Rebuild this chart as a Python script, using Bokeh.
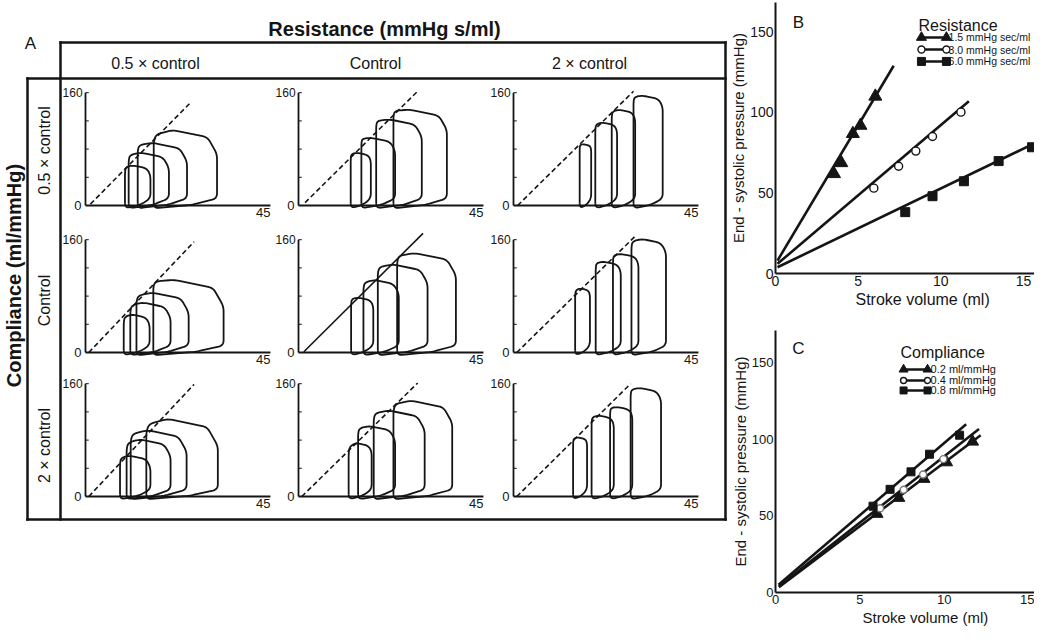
import numpy as np
from bokeh.plotting import figure
from bokeh.models import Range1d, FixedTicker, Title
from bokeh.layouts import row, column
from bokeh.embed import file_html
from bokeh.resources import INLINE
from bokeh.core.properties import value

FONT = "Liberation Sans"
INK = "#151515"

# ======================= DATA =======================
# ---- Panel A: pressure-volume loops (volume ml, pressure mmHg)
RES_LABELS = ["0.5 \u00d7 control", "Control", "2 \u00d7 control"]
COMP_LABELS = ["0.5 \u00d7 control", "Control", "2 \u00d7 control"]
A_TITLE_X = "Resistance (mmHg s/ml)"
A_TITLE_Y = "Compliance (ml/mmHg)"
A_XMAX = 45
A_YMAX = 160
A_YTICKS = [40, 80, 120, 160]

# per loop: end-systolic volume, end-diastolic volume, end-systolic pressure, peak pressure
VES_00 = [9.6, 10.5, 12.7, 16.6]
VED_00 = [15.8, 20.3, 24.7, 32.0]
PES_00 = [52, 69, 83, 95]
PMX_00 = [57, 75, 89, 107]

VES_01 = [12.7, 15.3, 18.9, 23.1]
VED_01 = [17.6, 23.5, 30.0, 36.1]
PES_01 = [71, 94, 119, 133]
PMX_01 = [75, 96, 122, 136]

VES_02 = [16.1, 19.9, 23.9, 29.2]
VED_02 = [18.9, 25.2, 29.6, 36.3]
PES_02 = [85, 112, 131, 152]
PMX_02 = [87, 118, 136, 156]

VES_10 = [9.3, 10.9, 12.4, 16.5]
VED_10 = [15.6, 20.7, 25.1, 33.6]
PES_10 = [47, 63, 77, 99]
PMX_10 = [54, 71, 85, 103]

VES_11 = [12.8, 15.8, 19.3, 24.0]
VED_11 = [18.2, 24.4, 31.4, 38.3]
PES_11 = [74, 96, 118, 134]
PMX_11 = [78, 103, 125, 141]

VES_12 = [15.0, 20.0, 24.2, 28.7]
VED_12 = [18.6, 26.1, 30.4, 37.1]
PES_12 = [85, 125, 136, 155]
PMX_12 = [91, 129, 140, 161]

VES_20 = [8.4, 10.0, 11.0, 14.8]
VED_20 = [15.8, 20.7, 24.6, 32.2]
PES_20 = [52, 72, 84, 96]
PMX_20 = [58, 81, 94, 110]

VES_21 = [12.2, 14.5, 18.3, 23.1]
VED_21 = [17.8, 23.5, 30.7, 37.4]
PES_21 = [65, 94, 115, 127]
PMX_21 = [76, 100, 122, 136]

VES_22 = [14.5, 19.0, 23.5, 28.5]
VED_22 = [17.9, 24.4, 28.9, 35.9]
PES_22 = [80, 110, 124, 150]
PMX_22 = [84, 115, 127, 154]

# end-systolic pressure-volume relation (two end points)
ESV_00, ESP_00 = [1.2, 25.4], [2, 145]
ESV_01, ESP_01 = [1.6, 28.8], [4, 161]
ESV_02, ESP_02 = [1.0, 29.2], [0, 162]
ESV_10, ESP_10 = [0.8, 26.4], [0, 157]
ESV_11, ESP_11 = [1.3, 30.3], [1, 169]
ESV_12, ESP_12 = [0.8, 29.6], [0, 165]
ESV_20, ESP_20 = [0.8, 26.4], [0, 159]
ESV_21, ESP_21 = [0.8, 29.0], [0, 161]
ESV_22, ESP_22 = [0.8, 28.5], [0, 160]

# ---- Panel B: resistance
B_LABELS = ["1.5 mmHg sec/ml", "3.0 mmHg sec/ml", "6.0 mmHg sec/ml"]
B_TRI_X = [3.54, 3.98, 4.68, 5.14, 6.04]
B_TRI_Y = [61.9, 68.7, 86.8, 91.9, 110.0]
B_CIR_X = [5.95, 7.45, 8.49, 9.50, 11.22]
B_CIR_Y = [53.0, 66.6, 76.0, 85.1, 100.2]
B_SQR_X = [7.85, 9.50, 11.40, 13.50, 15.52]
B_SQR_Y = [38.1, 48.0, 57.3, 69.8, 78.4]
B_FIT_TRI = ([0.12, 7.15], [8.0, 129.0])
B_FIT_CIR = ([0.12, 11.7], [6.0, 107.0])
B_FIT_SQR = ([0.12, 15.6], [3.9, 80.5])

# ---- Panel C: compliance
C_LABELS = ["0.2 ml/mmHg", "0.4 ml/mmHg", "0.8 ml/mmHg"]
C_TRI_X = [6.02, 7.31, 8.80, 10.14, 11.68]
C_TRI_Y = [51.3, 61.7, 74.1, 84.9, 98.4]
C_CIR_X = [6.20, 7.60, 8.75, 9.95]
C_CIR_Y = [55.0, 67.0, 77.0, 87.0]
C_SQR_X = [5.78, 6.79, 8.03, 9.13, 10.91]
C_SQR_Y = [56.3, 67.3, 78.7, 90.2, 102.6]
C_FIT_TRI = ([0.2, 12.16], [3.5, 102.6])
C_FIT_CIR = ([0.2, 12.06], [4.0, 106.7])
C_FIT_SQR = ([0.18, 11.3], [5.0, 109.8])

XTICKS = [0, 5, 10, 15]
YTICKS = [0, 50, 100, 150]
X_LABEL = "Stroke volume (ml)"
Y_LABEL = "End - systolic pressure (mmHg)"

# ======================= PANEL A =======================
W_A, H_A = 727, 626
SX, SY = 4.11, 0.705            # px per ml, px per mmHg in each small panel
X0 = [85, 298, 513]             # x of each column's pressure axis
Y0 = [205, 352, 496]            # y of each row's volume axis
XR = 725                        # right frame line

pA = figure(width=W_A, height=H_A, x_range=Range1d(0, W_A),
            y_range=Range1d(H_A, 0), min_border=0,
            x_axis_location=None, y_axis_location=None,
            toolbar_location=None, output_backend="svg",
            outline_line_color=None)
pA.grid.visible = False
pA.extra_x_ranges = {f"c{j}": Range1d((0 - X0[j]) / SX, (W_A - X0[j]) / SX)
                     for j in range(3)}
pA.extra_y_ranges = {f"r{i}": Range1d((Y0[i] - H_A) / SY, (Y0[i] - 0) / SY)
                     for i in range(3)}


def rounded_closed(vx, vy, r=5.0, n=7):
    X = np.asarray(vx, float) * SX
    Y = np.asarray(vy, float) * SY
    m = len(X)
    ox, oy = [], []
    for k in range(m):
        pxx, pyy = X[k - 1], Y[k - 1]
        cx, cy = X[k], Y[k]
        nx, ny = X[(k + 1) % m], Y[(k + 1) % m]
        l1 = np.hypot(pxx - cx, pyy - cy)
        l2 = np.hypot(nx - cx, ny - cy)
        r1, r2 = min(r, l1 / 2), min(r, l2 / 2)
        ax, ay = cx + (pxx - cx) / l1 * r1, cy + (pyy - cy) / l1 * r1
        bx, by = cx + (nx - cx) / l2 * r2, cy + (ny - cy) / l2 * r2
        for t in np.linspace(0, 1, n):
            ox.append((1 - t) ** 2 * ax + 2 * (1 - t) * t * cx + t ** 2 * bx)
            oy.append((1 - t) ** 2 * ay + 2 * (1 - t) * t * cy + t ** 2 * by)
    ox.append(ox[0])
    oy.append(oy[0])
    return list(np.array(ox) / SX), list(np.array(oy) / SY)


def loop_outline(ves, ved, pes, pmx):
    w = ved - ves
    prc = max(pmx - 2.2 * w, 0.62 * pmx)
    vx = [ves, ves + 0.6 * w, ved, ved, ved - 0.15 * w, ves + 0.3 * w, ves + 0.04 * w, ves]
    vy = [-4, 1, 10, prc, prc + 0.7 * (pmx - prc), pmx, 0.5 * (pes + pmx), pes - 4]
    return rounded_closed(vx, vy)


PANELS = {
    (0, 0): (VES_00, VED_00, PES_00, PMX_00, ESV_00, ESP_00),
    (0, 1): (VES_01, VED_01, PES_01, PMX_01, ESV_01, ESP_01),
    (0, 2): (VES_02, VED_02, PES_02, PMX_02, ESV_02, ESP_02),
    (1, 0): (VES_10, VED_10, PES_10, PMX_10, ESV_10, ESP_10),
    (1, 1): (VES_11, VED_11, PES_11, PMX_11, ESV_11, ESP_11),
    (1, 2): (VES_12, VED_12, PES_12, PMX_12, ESV_12, ESP_12),
    (2, 0): (VES_20, VED_20, PES_20, PMX_20, ESV_20, ESP_20),
    (2, 1): (VES_21, VED_21, PES_21, PMX_21, ESV_21, ESP_21),
    (2, 2): (VES_22, VED_22, PES_22, PMX_22, ESV_22, ESP_22),
}

for (i, j), (ves, ved, pes, pmx, esv, esp) in PANELS.items():
    kw = dict(x_range_name=f"c{j}", y_range_name=f"r{i}")
    # small axes
    pA.multi_line(xs=[[0, A_XMAX], [0, 0]], ys=[[0, 0], [0, A_YMAX]],
                  line_color=INK, line_width=1.8, **kw)
    pA.segment(x0=[0] * len(A_YTICKS), y0=A_YTICKS, x1=[0.8] * len(A_YTICKS), y1=A_YTICKS,
               line_color=INK, line_width=1.0, **kw)
    pA.text(x=[-0.7], y=[A_YMAX], text=[str(A_YMAX)], text_font=value(FONT),
            text_font_size="12px", text_align="right", text_baseline="middle",
            text_color=INK, **kw)
    pA.text(x=[-1.0], y=[0], text=["0"], text_font=value(FONT),
            text_font_size="13px", text_align="right", text_baseline="middle",
            text_color=INK, **kw)
    pA.text(x=[A_XMAX], y=[-4], text=[str(A_XMAX)], text_font=value(FONT),
            text_font_size="13px", text_align="right", text_baseline="top",
            text_color=INK, **kw)
    # ESPVR
    pA.line(x=esv, y=esp, line_color=INK, line_width=1.6,
            line_dash="solid" if (i, j) == (1, 1) else "5 3", **kw)
    # loops
    xs, ys = [], []
    for a, b, c, d in zip(ves, ved, pes, pmx):
        lx, ly = loop_outline(a, b, c, d)
        xs.append(lx)
        ys.append(ly)
    pA.multi_line(xs=xs, ys=ys, line_color=INK, line_width=1.8, line_join="round", **kw)

# frame of panel A
pA.multi_line(xs=[[60, XR], [27, XR], [27, XR], [60, 60], [XR, XR], [27, 27]],
              ys=[[42, 42], [78, 78], [519, 519], [42, 519], [42, 519], [78, 519]],
              line_color=INK, line_width=2.5, line_cap="square")

pA.text(x=[30], y=[43], text=["A"], text_font=value(FONT), text_font_size="17px",
        text_align="center", text_baseline="middle", text_color=INK)
pA.text(x=[384], y=[28], text=[A_TITLE_X], text_font=value(FONT), text_font_size="20px",
        text_font_style="bold", text_align="center", text_baseline="middle", text_color=INK)
pA.text(x=[155, 375, 589], y=[63, 63, 63], text=RES_LABELS, text_font=value(FONT),
        text_font_size="16px", text_align="center", text_baseline="middle", text_color=INK)
pA.text(x=[44, 44, 44], y=[150, 300, 445], text=COMP_LABELS, text_font=value(FONT),
        text_font_size="16px", text_align="center", text_baseline="middle",
        angle=np.pi / 2, text_color=INK)
pA.text(x=[13], y=[275], text=[A_TITLE_Y], text_font=value(FONT), text_font_size="20px",
        text_font_style="bold", text_align="center", text_baseline="middle",
        angle=np.pi / 2, text_color=INK)


# ======================= PANELS B, C =======================
def style(p, tick_px, xlab_px, xlab_offset):
    p.grid.visible = False
    p.outline_line_color = None
    for ax in (p.xaxis[0], p.yaxis[0]):
        ax.axis_line_width = 2
        ax.axis_line_color = INK
        ax.major_tick_out = 0
        ax.major_tick_in = 0
        ax.minor_tick_out = 0
        ax.minor_tick_in = 0
        ax.major_label_text_font = FONT
        ax.major_label_text_font_size = tick_px
        ax.major_label_text_color = INK
    p.xaxis.ticker = FixedTicker(ticks=XTICKS)
    p.yaxis.ticker = FixedTicker(ticks=YTICKS)
    p.xaxis.major_label_standoff = 2
    p.yaxis.major_label_standoff = 2
    p.yaxis.axis_label = Y_LABEL
    p.yaxis.axis_label_text_font = FONT
    p.yaxis.axis_label_text_font_size = "15px"
    p.yaxis.axis_label_text_font_style = "normal"
    p.yaxis.axis_label_text_color = INK
    p.yaxis.axis_label_standoff = 0
    p.add_layout(Title(text=X_LABEL, align="left", offset=xlab_offset, standoff=0,
                       text_font=FONT, text_font_size=xlab_px, text_font_style="normal",
                       text_color=INK), "below")


def draw_series(p, fits, pts, tri_size, sq_size, cir_size, cir_color):
    for fx, fy in fits:
        p.line(x=fx, y=fy, line_color=INK, line_width=2.6)
    (tx, ty), (cx, cy), (sx, sy) = pts
    p.scatter(x=tx, y=ty, marker="triangle", size=tri_size, color=INK)
    p.scatter(x=cx, y=cy, marker="circle", size=cir_size, fill_color="white",
              line_color=cir_color, line_width=1.4)
    p.scatter(x=sx, y=sy, marker="square", size=sq_size, color=INK)


def legend(p, title, labels, x_line, x_text, ys, y_title, x_title, font_px,
           tri_size, sq_size, cir_size):
    p.text(x=[x_title], y=[y_title], text=[title], text_font=value(FONT),
           text_font_size="16px", text_align="left", text_baseline="middle", text_color=INK)
    for k, yk in enumerate(ys):
        p.line(x=x_line, y=[yk, yk], line_color=INK, line_width=2.6)
        if k == 0:
            p.scatter(x=x_line, y=[yk, yk], marker="triangle", size=tri_size, color=INK)
        elif k == 1:
            p.scatter(x=x_line, y=[yk, yk], marker="circle", size=cir_size,
                      fill_color="white", line_color=INK, line_width=1.4)
        else:
            p.scatter(x=x_line, y=[yk, yk], marker="square", size=sq_size, color=INK)
    p.text(x=[x_text] * len(ys), y=ys, text=labels, text_font=value(FONT),
           text_font_size=font_px, text_align="left", text_baseline="middle", text_color=INK)


W_R = 1034 - W_A
pB = figure(width=W_R, height=310, x_range=Range1d(0, 15.67), y_range=Range1d(0, 168.3),
            min_border_left=48, min_border_right=0, min_border_top=2, min_border_bottom=37,
            toolbar_location=None, output_backend="svg")
style(pB, "14px", "16px", 80)
draw_series(pB, [B_FIT_TRI, B_FIT_CIR, B_FIT_SQR],
            [(B_TRI_X, B_TRI_Y), (B_CIR_X, B_CIR_Y), (B_SQR_X, B_SQR_Y)],
            13, 9, 8, INK)
pB.text(x=[1.39], y=[156], text=["B"], text_font=value(FONT), text_font_size="17px",
        text_align="center", text_baseline="middle", text_color=INK)
legend(pB, "Resistance", B_LABELS, [8.83, 10.34], 10.47, [146.6, 139.1, 131.7],
       154, 8.65, "10.5px", 10, 8, 7)

pC = figure(width=W_R, height=316, x_range=Range1d(0, 15.35), y_range=Range1d(0, 170.9),
            min_border_left=48, min_border_right=0, min_border_top=20, min_border_bottom=34,
            toolbar_location=None, output_backend="svg")
style(pC, "13px", "15px", 87)
draw_series(pC, [C_FIT_TRI, C_FIT_CIR, C_FIT_SQR],
            [(C_TRI_X, C_TRI_Y), (C_CIR_X, C_CIR_Y), (C_SQR_X, C_SQR_Y)],
            12, 8, 7, "#777777")
pC.text(x=[1.36], y=[159.2], text=["C"], text_font=value(FONT), text_font_size="17px",
        text_align="center", text_baseline="middle", text_color=INK)
legend(pC, "Compliance", C_LABELS, [7.59, 9.01], 9.19, [145.5, 138.3, 131.8],
       156.6, 7.41, "11px", 9, 7, 6)

layout = row(pA, column(pB, pC))
open("out.html", "w").write(file_html(layout, INLINE))
